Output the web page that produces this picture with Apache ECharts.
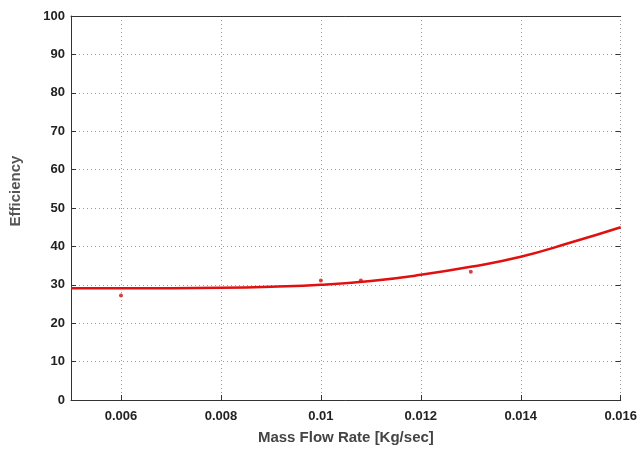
<!DOCTYPE html>
<html><head><meta charset="utf-8">
<script src="https://cdn.jsdelivr.net/npm/echarts@6/dist/echarts.min.js"></script>
<style>html,body{margin:0;padding:0;background:#fff}#c{width:640px;height:450px}</style>
</head><body><div id="c"></div>
<script>
// Fitted curve
const curveX = [0.005, 0.006, 0.007, 0.008, 0.009, 0.010, 0.011, 0.012, 0.013, 0.014, 0.015, 0.016];
const curveY = [29.1, 29.1, 29.1, 29.2, 29.5, 30.0, 31.0, 32.6, 34.7, 37.3, 41.0, 45.0];
// Measured points
const pointX = [0.006, 0.010, 0.0108, 0.013];
const pointY = [27.2, 31.1, 31.1, 33.4];
const xTicks = [0.006, 0.008, 0.010, 0.012, 0.014, 0.016];
const yTicks = [0, 10, 20, 30, 40, 50, 60, 70, 80, 90, 100];

const FONT = '"Liberation Sans Narrow", "Liberation Sans", Arial, sans-serif';
const chart = echarts.init(document.getElementById('c'), null, {renderer: 'canvas'});
const lbl = {color: '#222', fontFamily: FONT, fontSize: 13, fontWeight: 'bold'};
const grid = {type: [1, 3], color: '#9a9a9a', width: 1};
chart.setOption({
  animation: false,
  backgroundColor: '#fff',
  grid: {left: 71, right: 14, top: 16, bottom: 46},
  xAxis: [{
    type: 'value', min: 0.005, max: 0.016,
    axisLine: {show: true, lineStyle: {color: '#333', width: 1}},
    axisTick: {show: true, inside: true, length: 5, customValues: xTicks, lineStyle: {color: '#333'}},
    axisLabel: Object.assign({customValues: xTicks, margin: 10, formatter: v => String(+v.toFixed(3))}, lbl),
    splitLine: {show: true, lineStyle: grid},
    name: 'Mass Flow Rate [Kg/sec]', nameLocation: 'middle', nameGap: 30,
    nameTextStyle: {color: '#444', fontFamily: FONT, fontSize: 15, fontWeight: 'bold'}
  }, {
    type: 'value', position: 'top', min: 0.005, max: 0.016,
    axisLine: {show: true, onZero: false, lineStyle: {color: '#333', width: 1}},
    axisTick: {show: false}, axisLabel: {show: false}, splitLine: {show: false}
  }],
  yAxis: [{
    type: 'value', min: 0, max: 100, interval: 10,
    axisLine: {show: true, lineStyle: {color: '#333', width: 1}},
    axisTick: {show: true, inside: true, length: 5, lineStyle: {color: '#333'}},
    axisLabel: Object.assign({margin: 6}, lbl),
    splitLine: {show: true, lineStyle: grid},
    name: 'Efficiency', nameLocation: 'middle', nameGap: 48, nameRotate: 90,
    nameTextStyle: {color: '#555', fontFamily: '"Liberation Sans", Arial, sans-serif', fontSize: 15, fontWeight: 'bold', padding: [0, 0, 0, 34]}
  }, {
    type: 'value', position: 'right', min: 0, max: 100, interval: 10,
    axisLine: {show: false},
    axisTick: {show: true, inside: true, length: 5, lineStyle: {color: '#333'}},
    axisLabel: {show: false}, splitLine: {show: false}
  }],
  series: [{
    type: 'line', smooth: true, showSymbol: false,
    data: curveX.map((x, i) => [x, curveY[i]]),
    lineStyle: {color: '#e01010', width: 2.5}
  }, {
    type: 'scatter', symbol: 'circle', symbolSize: 4,
    data: pointX.map((x, i) => [x, pointY[i]]),
    itemStyle: {color: '#d01010'}
  }]
});
</script></body></html>
